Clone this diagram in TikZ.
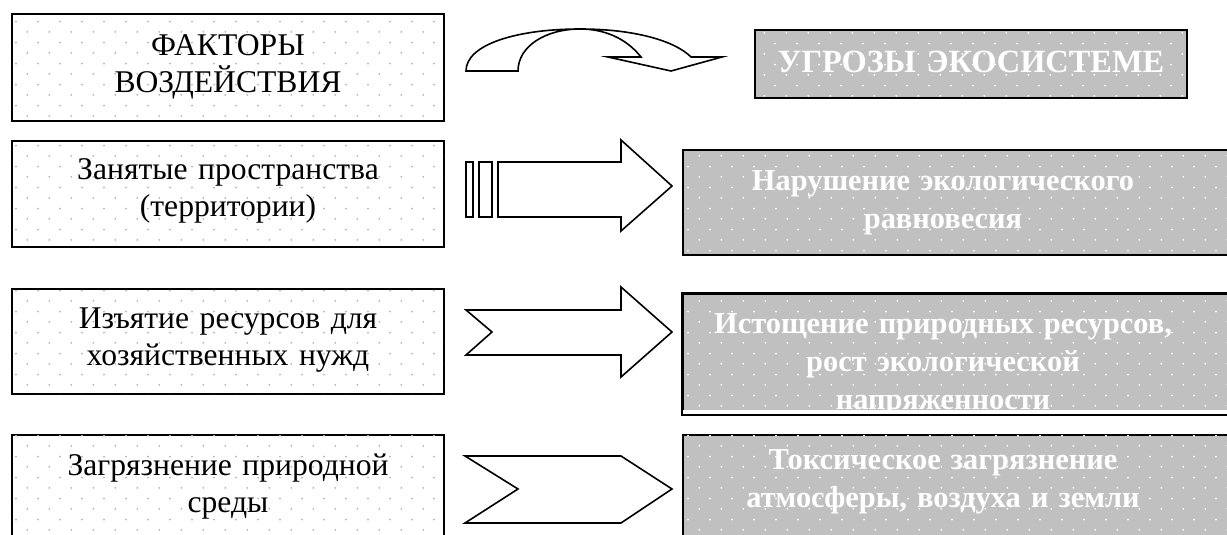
\documentclass[tikz,border=0pt]{standalone}
\usepackage{fontspec}
\setmainfont{Liberation Serif}
\usetikzlibrary{patterns}

\definecolor{boxgray}{RGB}{192,192,192}
\definecolor{dotgray}{RGB}{180,180,180}

% sparse dot raster as in the text boxes
\pgfdeclarepatternformonly{sparsedots}{\pgfpointorigin}{\pgfpoint{10.85pt}{10.35pt}}{\pgfpoint{10.85pt}{10.35pt}}{
  \pgfpathcircle{\pgfpoint{2.7pt}{2.6pt}}{0.5pt}
  \pgfpathcircle{\pgfpoint{8.125pt}{7.775pt}}{0.5pt}
  \pgfusepath{fill}}

\newcommand{\shiftedtext}[1]{\parbox[t]{260pt}{\centering #1}}

\tikzset{
  leftbox/.style={draw, line width=1pt, anchor=north west, inner sep=0pt,
    text width=216pt, align=center, fill=white,
    postaction={pattern=sparsedots, pattern color=dotgray},
    font=\fontsize{15.8}{18.5}\selectfont},
  rightbox/.style={draw, line width=1pt, anchor=north west, inner sep=0pt,
    fill=boxgray, postaction={pattern=sparsedots, pattern color=white},
    text=white, font=\fontsize{15.2}{19}\selectfont\bfseries},
  blockarrow/.style={draw, line width=0.8pt, fill=white, line join=miter}
}

\begin{document}
\begin{tikzpicture}[x=0.5pt,y=-0.5pt]
  \useasboundingbox (0,0) rectangle (1227,535);

  % left column
  \node at (11,13) [leftbox, text height=21pt, text depth=32.5pt] (f0) {ФАКТОРЫ\\ВОЗДЕЙСТВИЯ};
  \node at (11,140) [leftbox, text height=19pt, text depth=34pt] (f1) {Занятые пространства\\(территории)};
  \node at (11,288) [leftbox, text height=19.5pt, text depth=33pt] (f2) {Изъятие ресурсов для\\хозяйственных нужд};
  \node at (11,434) [leftbox, text height=20pt, text depth=35pt] (f3) {Загрязнение природной\\среды};

  % right column
  \node at (754,29) [rightbox, text width=216pt, align=center, text height=21.5pt, text depth=12.5pt,
    font=\fontsize{16.2}{19}\selectfont\bfseries] (t0) {УГРОЗЫ ЭКОСИСТЕМЕ};
  \node at (682,149) [rightbox, text width=280pt, align=left, text height=20.5pt, text depth=32pt] (t1)
    {\shiftedtext{Нарушение экологического\\равновесия}};
  \begin{scope}
    \clip (600,280) rectangle (1300,409);
    \node at (682,293) [rightbox, text width=280pt, align=left, text height=19.5pt, text depth=40.5pt] (t2)
      {\shiftedtext{Истощение природных ресурсов,\\рост экологической\\напряженности}};
  \end{scope}
  \draw[line width=1pt] (t2.north west) rectangle (t2.south east);
  \node at (682,434) [rightbox, text width=280pt, align=left, text height=17pt, text depth=53pt] (t3)
    {\shiftedtext{Токсическое загрязнение\\атмосферы, воздуха и земли}};

  % arrows
  \draw[blockarrow] (466,71) .. controls (466,44) and (518,29) .. (580,29)
    .. controls (632,29) and (674,40) .. (691,57) -- (722,57) -- (671,71) -- (608,57) -- (641,57)
    .. controls (626,38) and (604,29) .. (580,29) .. controls (546,29) and (518,46) .. (518,71) -- cycle;

  \draw[blockarrow] (466,162) rectangle (473,217);
  \draw[blockarrow] (479,162) rectangle (492,217);
  \draw[blockarrow] (498,162) -- (621,162) -- (621,140) -- (672,186) -- (621,231) -- (621,217) -- (498,217) -- cycle;

  \draw[blockarrow] (466,310) -- (621,310) -- (621,287) -- (672,332) -- (621,377) -- (621,355) -- (466,355) -- (492,332) -- cycle;

  \draw[blockarrow] (465,456) -- (621,456) -- (672,489) -- (621,523) -- (465,523) -- (518,489) -- cycle;
\end{tikzpicture}
\end{document}
